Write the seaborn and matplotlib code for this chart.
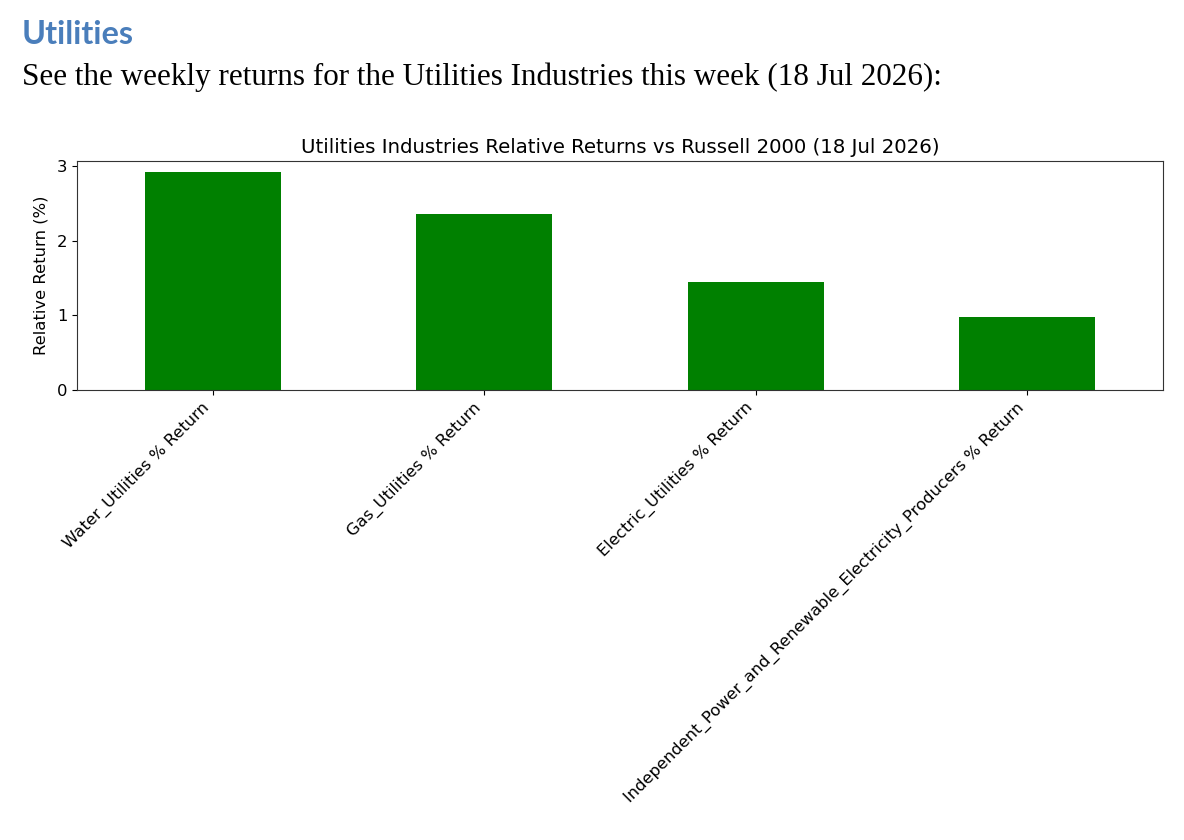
import matplotlib
matplotlib.use("Agg")
import matplotlib.pyplot as plt
from matplotlib.ticker import MultipleLocator
import pandas as pd
import seaborn as sns

industries = [
    "Water_Utilities % Return",
    "Gas_Utilities % Return",
    "Electric_Utilities % Return",
    "Independent_Power_and_Renewable_Electricity_Producers % Return",
]
returns = [2.92, 2.36, 1.45, 0.98]

heading = "Utilities"
intro = "See the weekly returns for the Utilities Industries this week (18 Jul 2026):"
chart_title = "Utilities Industries Relative Returns vs Russell 2000 (18 Jul 2026)"

df = pd.DataFrame({"industry": industries, "ret": returns})

plt.rcParams["font.family"] = "DejaVu Sans"

fig = plt.figure(figsize=(11.84, 8.4), dpi=100)
fig.text(22 / 1184, 1 - 44 / 840, heading, fontsize=23.3, fontweight="bold",
         color="#4a7ebb", family="Lato", va="baseline")
fig.text(22 / 1184, 1 - 85 / 840, intro, fontsize=22.4,
         family="Liberation Serif", va="baseline")

ax = fig.add_axes([77 / 1184, 1 - 390 / 840, 1086 / 1184, 229 / 840])
sns.barplot(data=df, x="industry", y="ret", color="green", saturation=1,
            width=0.5, ax=ax)
ax.yaxis.set_major_locator(MultipleLocator(1))
ax.set_title(chart_title, fontsize=14.2, pad=6)
ax.set_xlabel("")
ax.set_ylabel("Relative Return (%)", fontsize=11.8, labelpad=6)
ax.tick_params(labelsize=11.8)
for s in ax.spines.values():
    s.set_color("#333333")
plt.setp(ax.get_xticklabels(), rotation=45, ha="right")

fig.savefig("out.png", dpi=100)
